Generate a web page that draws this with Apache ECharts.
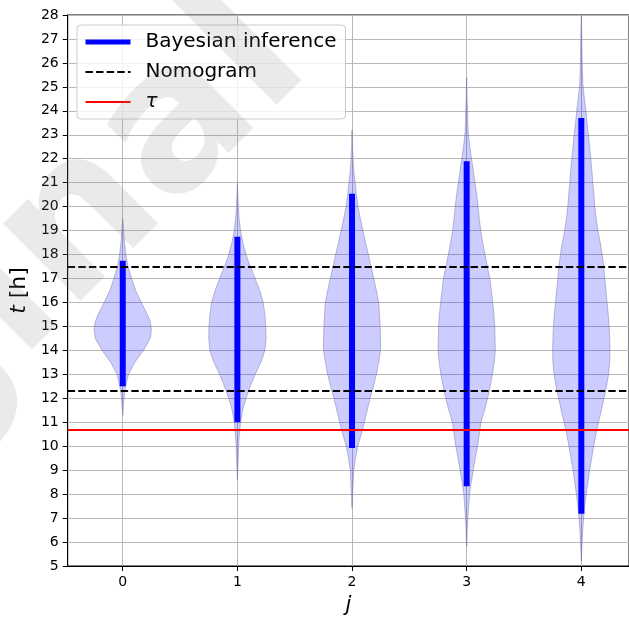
<!DOCTYPE html>
<html>
<head>
    <meta charset="utf-8">
    <title>violin</title>
    <script src="https://cdn.jsdelivr.net/npm/echarts@6/dist/echarts.min.js"></script>
    <style>
        html, body { margin: 0; padding: 0; background: #fff; overflow: hidden; }
        #chart { width: 629px; height: 621px; }
    </style>
</head>
<body>
<div id="chart"></div>
<script>
    // positions on the x axis
    var positions = [0, 1, 2, 3, 4];
    var xTicks = [0, 1, 2, 3, 4];

    // credible interval (blue bars)
    var ciLow = [12.5, 11.0, 9.93, 8.33, 7.18];
    var ciHigh = [17.74, 18.74, 20.54, 21.9, 23.7];

    // horizontal reference lines
    var nomogram = [17.5, 12.3];
    var tau = [10.7];

    // violin outlines: [t, relative half width]
    var violin0 = [[11.3, 0], [11.8, 0.03], [12.2, 0.06], [12.5, 0.1], [13.0, 0.2], [13.5, 0.42], [14.0, 0.72],
        [14.5, 0.96], [14.85, 1.0], [15.2, 0.96], [15.5, 0.86], [16.0, 0.65], [16.5, 0.45], [17.0, 0.31],
        [17.5, 0.18], [18.0, 0.11], [18.5, 0.06], [19.0, 0.03], [19.5, 0]];
    var violin1 = [[8.6, 0], [9.2, 0.02], [10.0, 0.04], [10.5, 0.07], [11.0, 0.11], [11.5, 0.18], [12.0, 0.3],
        [12.5, 0.45], [13.0, 0.62], [13.5, 0.82], [14.0, 0.96], [14.5, 1.0], [15.0, 0.99], [15.5, 0.96],
        [16.0, 0.9], [16.5, 0.78], [17.0, 0.62], [17.5, 0.45], [18.0, 0.3], [18.5, 0.19], [19.0, 0.11],
        [19.5, 0.06], [20.0, 0.035], [20.5, 0.015], [21.0, 0]];
    var violin2 = [[7.4, 0], [8.0, 0.02], [9.0, 0.06], [9.5, 0.12], [10.0, 0.2], [10.5, 0.32], [11.0, 0.43],
        [11.5, 0.53], [12.0, 0.63], [12.5, 0.75], [13.0, 0.85], [13.5, 0.93], [14.0, 0.99], [14.3, 1.0],
        [15.0, 0.98], [15.5, 0.96], [16.0, 0.93], [16.5, 0.85], [17.0, 0.76], [17.5, 0.66], [18.0, 0.57],
        [18.5, 0.47], [19.0, 0.38], [19.5, 0.29], [20.0, 0.21], [20.5, 0.15], [21.0, 0.11], [21.5, 0.06],
        [22.0, 0.035], [22.5, 0.015], [23.2, 0]];
    var violin3 = [[5.8, 0], [6.0, 0.01], [6.5, 0.02], [7.0, 0.04], [7.5, 0.07], [8.0, 0.1], [8.5, 0.16],
        [9.0, 0.23], [9.5, 0.3], [10.0, 0.38], [10.5, 0.44], [11.0, 0.5], [11.5, 0.62], [12.0, 0.73],
        [12.5, 0.82], [13.0, 0.9], [13.5, 0.96], [14.0, 1.0], [14.5, 0.99], [15.0, 0.98], [15.5, 0.95],
        [16.0, 0.91], [16.5, 0.86], [17.0, 0.81], [17.5, 0.72], [18.0, 0.64], [18.5, 0.56], [19.0, 0.49],
        [19.5, 0.44], [20.0, 0.4], [20.5, 0.35], [21.0, 0.29], [21.5, 0.23], [22.0, 0.17], [22.5, 0.11],
        [23.0, 0.06], [23.5, 0.04], [24.0, 0.03], [24.5, 0.015], [25.4, 0]];
    var violin4 = [[5.2, 0], [6.0, 0.03], [6.5, 0.05], [7.0, 0.08], [7.5, 0.12], [8.0, 0.17], [8.5, 0.23],
        [9.0, 0.29], [9.5, 0.36], [10.0, 0.43], [10.5, 0.51], [11.0, 0.6], [11.5, 0.7], [12.0, 0.79],
        [12.5, 0.88], [13.0, 0.95], [13.5, 0.99], [14.0, 1.0], [14.5, 0.99], [15.0, 0.97], [15.5, 0.94],
        [16.0, 0.9], [16.5, 0.86], [17.0, 0.82], [17.5, 0.78], [18.0, 0.73], [18.5, 0.66], [19.0, 0.58],
        [19.5, 0.52], [20.0, 0.47], [20.5, 0.44], [21.0, 0.4], [21.5, 0.37], [22.0, 0.33], [22.5, 0.29],
        [23.0, 0.25], [23.5, 0.2], [24.0, 0.16], [24.5, 0.11], [25.0, 0.06], [25.5, 0.045], [26.0, 0.03],
        [27.0, 0.02], [28.0, 0]];
    var violins = [violin0, violin1, violin2, violin3, violin4];

    var halfWidth = 0.25;  // violin widths = 0.5
    var font = 'DejaVu Sans';

    var myChart = echarts.init(document.getElementById('chart'), null, {renderer: 'canvas'});

    function renderViolin(params, api) {
        var j = api.value(0);
        var prof = violins[j];
        var pts = [];
        var k;
        for (k = 0; k < prof.length; k++) {
            pts.push(api.coord([j + prof[k][1] * halfWidth, prof[k][0]]));
        }
        for (k = prof.length - 1; k >= 0; k--) {
            pts.push(api.coord([j - prof[k][1] * halfWidth, prof[k][0]]));
        }
        return {
            type: 'polygon',
            shape: {points: pts},
            style: {fill: 'rgba(0,0,255,0.2)', stroke: 'rgba(110,110,160,0.45)', lineWidth: 1}
        };
    }

    function renderCI(params, api) {
        var a = api.coord([api.value(0), api.value(1)]);
        var b = api.coord([api.value(0), api.value(2)]);
        return {
            type: 'line',
            shape: {x1: a[0], y1: a[1], x2: b[0], y2: b[1]},
            style: {stroke: '#0000ff', lineWidth: 6, lineCap: 'butt'}
        };
    }

    var dash = [7.4, 3.2];

    var option = {
        animation: false,
        backgroundColor: '#ffffff',
        grid: {
            left: 67, right: -1, top: 15, bottom: 52,
            show: true, borderColor: '#000', borderWidth: 1, backgroundColor: 'transparent'
        },
        legend: {
            orient: 'vertical',
            left: 77, top: 25,
            data: [
                {name: 'Bayesian inference', lineStyle: {width: 5}},
                {name: 'Nomogram'},
                {name: 'τ'}
            ],
            itemWidth: 45, itemHeight: 14, itemGap: 10,
            padding: [7, 9, 7, 6],
            backgroundColor: 'rgba(255,255,255,0.8)',
            borderColor: '#cccccc', borderWidth: 1, borderRadius: 4,
            itemStyle: {opacity: 0},
            textStyle: {
                fontFamily: font, fontSize: 20, color: '#000', padding: [0, 0, 0, 10],
                rich: {i: {fontFamily: font, fontSize: 20, fontStyle: 'italic', color: '#000'}}
            },
            formatter: function (name) { return name === 'τ' ? '{i|τ}' : name; },
            selectedMode: false
        },
        xAxis: {
            type: 'value', min: -0.48, max: 4.416,
            name: 'j', nameLocation: 'middle', nameGap: 29,
            nameTextStyle: {fontFamily: font, fontSize: 21, fontStyle: 'italic', color: '#000'},
            axisLine: {onZero: false, lineStyle: {color: '#000', width: 1}},
            axisTick: {show: true, length: 5, lineStyle: {color: '#000'}, customValues: xTicks},
            axisLabel: {fontFamily: font, fontSize: 14, color: '#000', margin: 9, customValues: xTicks},
            splitLine: {show: true, lineStyle: {color: '#b8b8b8', width: 1}}
        },
        yAxis: {
            type: 'value', min: 5, max: 28, interval: 1,
            name: '{i|t} [h]', nameLocation: 'middle', nameGap: 29,
            nameTextStyle: {
                fontFamily: font, fontSize: 22, color: '#000',
                rich: {i: {fontFamily: font, fontSize: 22, fontStyle: 'italic', color: '#000'}}
            },
            axisLine: {show: true, onZero: false, lineStyle: {color: '#000', width: 1}},
            axisTick: {show: true, length: 5, lineStyle: {color: '#000'}},
            axisLabel: {fontFamily: font, fontSize: 14, color: '#000', margin: 9},
            splitLine: {show: true, lineStyle: {color: '#b8b8b8', width: 1}}
        },
        graphic: [{
            type: 'text', x: -40, y: 348, rotation: Math.PI / 4, z: 100, silent: true,
            style: {
                text: 'Original', fontFamily: font, fontSize: 200, fontWeight: 'bold',
                fill: 'rgba(128,128,128,0.17)', align: 'center', verticalAlign: 'middle'
            }
        }],
        series: [
            {
                type: 'custom', name: 'violins', z: 2,
                renderItem: renderViolin,
                encode: {x: 0, y: [1, 2]},
                data: positions.map(function (j) { return [j, violins[j][0][0], violins[j][violins[j].length - 1][0]]; })
            },
            {
                type: 'custom', name: 'ci', z: 3,
                renderItem: renderCI,
                encode: {x: 0, y: [1, 2]},
                data: positions.map(function (j) { return [j, ciLow[j], ciHigh[j]]; })
            },
            {
                type: 'line', name: 'Bayesian inference', data: [], symbol: 'none',
                lineStyle: {color: '#0000ff', width: 5}, itemStyle: {color: '#0000ff'}
            },
            {
                type: 'line', name: 'Nomogram', data: [], symbol: 'none', z: 4,
                lineStyle: {color: '#000', width: 2, type: dash}, itemStyle: {color: '#000'},
                markLine: {
                    silent: true, symbol: ['none', 'none'], label: {show: false}, z: 4,
                    lineStyle: {color: '#000', width: 2, type: dash},
                    data: nomogram.map(function (v) { return {yAxis: v}; })
                }
            },
            {
                type: 'line', name: 'τ', data: [], symbol: 'none', z: 5,
                lineStyle: {color: '#ff0000', width: 2}, itemStyle: {color: '#ff0000'},
                markLine: {
                    silent: true, symbol: ['none', 'none'], label: {show: false}, z: 5,
                    lineStyle: {color: '#ff0000', width: 2, type: 'solid'},
                    data: tau.map(function (v) { return {yAxis: v}; })
                }
            }
        ]
    };
    myChart.setOption(option);
</script>
</body>
</html>
